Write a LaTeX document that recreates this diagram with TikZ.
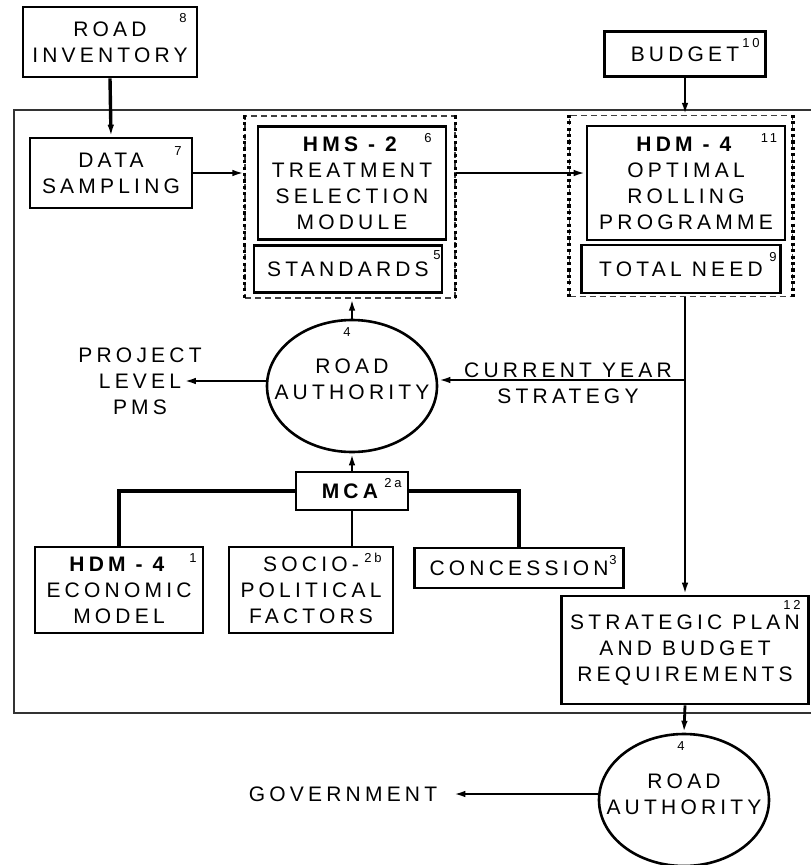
\documentclass[tikz,border=0pt]{standalone}
\usepackage{fontspec}
\setmainfont{Liberation Sans}[LetterSpace=20]
\usetikzlibrary{shapes.geometric,arrows.meta}

\tikzset{
  box/.style={draw,line width=2.6pt,inner sep=0pt,align=center},
  group/.style={draw=black!75,line width=1.3pt,dash pattern=on 6pt off 4pt,inner sep=0pt},
  dotside/.style={line width=3.6pt,dash pattern=on 3.2pt off 3.2pt},
  authority/.style={draw,ellipse,line width=2.6pt,inner sep=0pt,minimum width=170pt,minimum height=132pt},
  txt/.style={align=center,inner sep=0pt},
  num/.style={font=\fontsize{13}{13}\selectfont,inner sep=0pt},
  flow/.style={line width=2.8pt,-{Latex[length=12pt,width=6.5pt]}},
  link/.style={line width=3.2pt},
}

\begin{document}
\begin{tikzpicture}[x=1pt,y=-1pt]
\tikzstyle{every node}=[font=\fontsize{21}{26}\selectfont]
\useasboundingbox (0,0) rectangle (811,865);

% system boundary, open on the right
\draw[line width=1.7pt,black!80] (811,110) -| (14,713) -- (811,713);

\node[box,minimum width=174pt,minimum height=70pt] (inv) at (110,42) {ROAD\\INVENTORY};
\node[box,minimum width=161pt,minimum height=45pt] (budget) at (685,54) {BUDGET};
\node[box,minimum width=162pt,minimum height=70pt] (data) at (111,173) {DATA\\SAMPLING};

\node[group,minimum width=210pt,minimum height=182pt] (hmsgrp) at (350,207) {};
\node[box,minimum width=188pt,minimum height=113pt] (hms) at (352,183) {\textbf{HMS - 2}\\TREATMENT\\SELECTION\\MODULE};
\node[box,minimum width=188pt,minimum height=47pt] (std) at (348,269) {STANDARDS};

\node[group,minimum width=223pt,minimum height=181pt] (hdmgrp) at (681,206) {};
\node[box,minimum width=198pt,minimum height=114pt] (hdm) at (686,183) {\textbf{HDM - 4}\\OPTIMAL\\ROLLING\\PROGRAMME};
\node[box,minimum width=199pt,minimum height=48pt] (need) at (681,269) {TOTAL NEED};

\foreach \g in {hmsgrp,hdmgrp}
  \foreach \s in {west,east}
    \draw[dotside] (\g.north \s) -- (\g.south \s);

\node[authority] (ra) at (352,386) {};
\node[txt] (ratxt) at (352,379) {ROAD\\AUTHORITY};
\node[txt] (pms) at (140,381) {PROJECT\\LEVEL\\PMS};
\node[txt] (cys) at (568,383) {CURRENT YEAR\\STRATEGY};

\node[box,minimum width=112pt,minimum height=38pt] (mca) at (352,491) {\textbf{MCA}};
\node[box,minimum width=168pt,minimum height=86pt] (econ) at (119,590) {\textbf{HDM - 4}\\ECONOMIC\\MODEL};
\node[box,minimum width=164pt,minimum height=86pt] (socio) at (311,590) {SOCIO-\\POLITICAL\\FACTORS};
\node[box,minimum width=209pt,minimum height=40pt] (conc) at (519,568) {CONCESSION};

\node[box,minimum width=247pt,minimum height=108pt] (strat) at (685,650) {STRATEGIC PLAN\\AND BUDGET\\REQUIREMENTS};
\node[authority] (ra2) at (684,800) {};
\node[txt] (ra2txt) at (684,794) {ROAD\\AUTHORITY};
\node[txt] (gov) at (343,794) {GOVERNMENT};

% reference numbers
\node[num] (n8) at (183,18) {8};
\node[num] (n10) at (751,43) {10};
\node[num] (n7) at (178,151) {7};
\node[num] (n6) at (428,138) {6};
\node[num] (n5) at (437,255) {5};
\node[num] (n11) at (769,138) {11};
\node[num] (n9) at (773,257) {9};
\node[num] (n4) at (347,332) {4};
\node[num] (n2a) at (393,483) {2a};
\node[num] (n1) at (193,558) {1};
\node[num] (n2b) at (373,558) {2b};
\node[num] (n3) at (613,560) {3};
\node[num] (n12) at (792,605) {12};
\node[num] (n4b) at (681,746) {4};

\draw[flow,line width=3.4pt] (inv.south) -- (data.north);
\draw[flow] (budget.south) -- (budget.south |- hdmgrp.north);
\draw[flow] (data.east) -- (data.east -| hmsgrp.west);
\draw[flow] (hmsgrp.east |- data.east) -- (hdm.west |- data.east);
\draw[flow] (ra.north) -- (ra.north |- hmsgrp.south);
\draw[flow] (pms.east -| ra.west) -- ([xshift=-18pt]pms.east);

\coordinate (split) at (685,380);
\draw[line width=2.8pt] (strat.north |- hdmgrp.south) -- (split);
\draw[flow] (split) -- (strat.north);
\draw[flow] (split) -- (split -| ra.east);

\draw[flow] (mca.north) -- (ra.south);
\draw[link] (mca.west) -| (econ.north);
\draw[link] (mca.east) -| (conc.north);
\draw[line width=2.6pt] (mca.south) -- (mca.south |- socio.north);

\draw[flow] (strat.south) -- (ra2.north);
\draw[flow] (gov.east -| ra2.west) -- ([xshift=16pt]gov.east);
\end{tikzpicture}
\end{document}
